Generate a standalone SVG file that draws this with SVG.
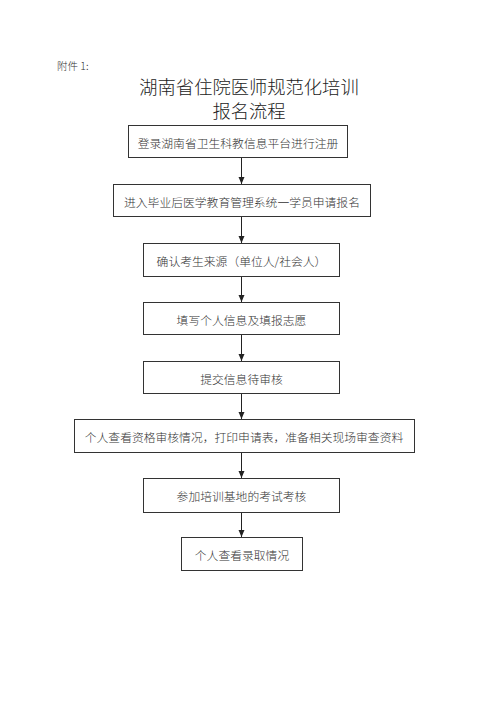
<svg xmlns="http://www.w3.org/2000/svg" width="500" height="707" viewBox="0 0 500 707">
<style>
.box{fill:#fff;stroke:#333;stroke-width:1}
.t{font-family:"Noto Sans CJK SC","Noto Sans",sans-serif;font-size:11.8px;font-weight:300;fill:#333;text-anchor:middle;dominant-baseline:central}
.title{font-family:"Noto Sans CJK SC","Noto Sans",sans-serif;font-size:18.3px;font-weight:300;fill:#222;text-anchor:middle}
.con{stroke:#222;stroke-width:1;fill:none;marker-end:url(#ah)}
</style>
<defs>
<marker id="ah" markerWidth="8" markerHeight="8" refX="7" refY="4" orient="auto" markerUnits="userSpaceOnUse">
<path d="M0,1 L7,4 L0,7 Z" fill="#222"/>
</marker>
</defs>
<rect width="500" height="707" fill="#fff"/>
<text x="57" y="70" style="font-family:'Noto Sans CJK SC',sans-serif;font-size:10.5px;font-weight:300;fill:#333">附件 1:</text>
<text class="title" x="249" y="94">湖南省住院医师规范化培训</text>
<text class="title" x="249" y="118">报名流程</text>
<g id="connectors">
<line class="con" x1="241.5" y1="157" x2="241.5" y2="184"/>
<line class="con" x1="241.5" y1="216" x2="241.5" y2="243"/>
<line class="con" x1="241.5" y1="276" x2="241.5" y2="302"/>
<line class="con" x1="241.5" y1="334" x2="241.5" y2="361"/>
<line class="con" x1="241.5" y1="393" x2="241.5" y2="419"/>
<line class="con" x1="241.5" y1="452" x2="241.5" y2="478"/>
<line class="con" x1="241.5" y1="512" x2="241.5" y2="537"/>
</g>
<g id="n1"><rect class="box" x="128.5" y="125.5" width="219" height="32"/><text class="t" x="238" y="142">登录湖南省卫生科教信息平台进行注册</text></g>
<g id="n2"><rect class="box" x="113.5" y="184.5" width="257" height="32"/><text class="t" x="242" y="201">进入毕业后医学教育管理系统一学员申请报名</text></g>
<g id="n3"><rect class="box" x="143.5" y="243.5" width="196" height="33"/><text class="t" x="241.5" y="260">确认考生来源（单位人/社会人）</text></g>
<g id="n4"><rect class="box" x="143.5" y="302.5" width="196" height="32"/><text class="t" x="241.5" y="319">填写个人信息及填报志愿</text></g>
<g id="n5"><rect class="box" x="143.5" y="361.5" width="196" height="32"/><text class="t" x="241.5" y="378">提交信息待审核</text></g>
<g id="n6"><rect class="box" x="74.5" y="419.5" width="340" height="33"/><text class="t" x="244" y="436">个人查看资格审核情况，打印申请表，准备相关现场审查资料</text></g>
<g id="n7"><rect class="box" x="143.5" y="478.5" width="196" height="34"/><text class="t" x="241.5" y="495">参加培训基地的考试考核</text></g>
<g id="n8"><rect class="box" x="181.5" y="537.5" width="121" height="33"/><text class="t" x="242" y="554">个人查看录取情况</text></g>
</svg>
